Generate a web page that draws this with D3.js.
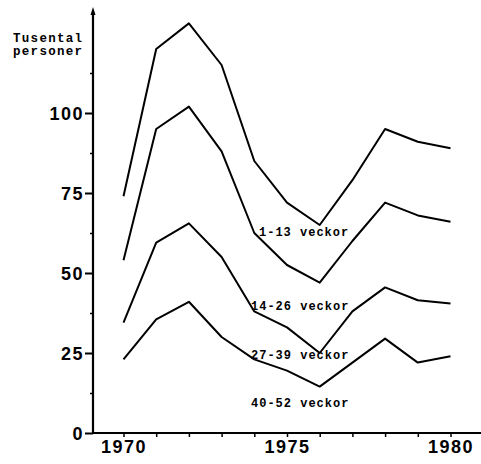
<!DOCTYPE html>
<html>
<head>
<meta charset="utf-8">
<script src="https://cdn.jsdelivr.net/npm/d3@7"></script>
<style>
body { margin: 0; background: #fff; }
svg { display: block; }
.tick text { font-family: "Liberation Sans", Arial, sans-serif; font-weight: bold; font-size: 18px; letter-spacing: 1.5px; fill: #000; }
.lbl { font-family: "Liberation Mono", "DejaVu Sans Mono", monospace; font-weight: bold; font-size: 12px; letter-spacing: 1px; fill: #000; }
</style>
</head>
<body>
<script>
var years = [1970, 1971, 1972, 1973, 1974, 1975, 1976, 1977, 1978, 1979, 1980];
var total = [74, 120, 128, 115, 85, 72, 65, 79, 95, 91, 89];
var upTo26 = [54, 95, 102, 88, 62.5, 52.5, 47, 60, 72, 68, 66];
var upTo39 = [34.5, 59.5, 65.5, 55, 38, 33, 25, 38, 45.5, 41.5, 40.5];
var upTo52 = [23, 35.5, 41, 30, 23, 19.5, 14.5, 22, 29.5, 22, 24];
var yTicks = [0, 25, 50, 75, 100];
var yMinor = [12.5, 37.5, 62.5, 87.5, 112.5];
var bandLabels = ["1-13 veckor", "14-26 veckor", "27-39 veckor", "40-52 veckor"];
var yTitle = ["Tusental", "personer"];

var width = 481, height = 464;

var svg = d3.select("body").append("svg")
	.attr("width", width).attr("height", height);

var x = d3.scaleLinear().domain([1970, 1980]).range([123.5, 450.5]);
var y = d3.scaleLinear().domain([0, 100]).range([433, 113]);

// y axis
var yAxis = svg.append("g").attr("transform", "translate(93,0)")
	.call(d3.axisLeft(y).tickValues(yTicks).tickSize(8).tickPadding(1).tickFormat(d3.format("d")));
yAxis.select(".domain").remove();
yAxis.selectAll(".tick line").attr("stroke-width", 2);
yAxis.selectAll(".tick text").attr("dy", "0.36em");

var yMin = svg.append("g").attr("transform", "translate(93,0)")
	.call(d3.axisLeft(y).tickValues(yMinor).tickSize(3).tickFormat(""));
yMin.select(".domain").remove();
yMin.selectAll(".tick line").attr("stroke-width", 1.5);

svg.append("line").attr("x1", 93).attr("x2", 93).attr("y1", y(0) + 1).attr("y2", 12)
	.attr("stroke", "#000").attr("stroke-width", 2.2);
svg.append("path").attr("d", "M93,7 L90.5,15 L95.5,15 Z").attr("fill", "#000");

// x axis
var xAxis = svg.append("g").attr("transform", "translate(0," + y(0) + ")")
	.call(d3.axisBottom(x).tickValues(years).tickSize(4).tickPadding(3)
		.tickFormat(function (d) { return d % 5 === 0 ? d : ""; }));
xAxis.select(".domain").remove();
xAxis.selectAll(".tick line").attr("stroke-width", 1.5);
svg.append("line").attr("x1", 92).attr("x2", 481).attr("y1", y(0)).attr("y2", y(0))
	.attr("stroke", "#000").attr("stroke-width", 2.2);

// lines
var line = d3.line()
	.x(function (d, i) { return x(years[i]); })
	.y(function (d) { return y(d); });

[total, upTo26, upTo39, upTo52].forEach(function (s) {
	svg.append("path").datum(s).attr("d", line)
		.attr("fill", "none").attr("stroke", "#000").attr("stroke-width", 2)
		.attr("stroke-linejoin", "round");
});

// band labels
var labelVals = [61.5, 38.5, 23, 8];
svg.selectAll(".lbl").data(bandLabels).enter().append("text")
	.attr("class", "lbl")
	.attr("x", function (d, i) { return i === 0 ? 259 : 251; })
	.attr("y", function (d, i) { return y(labelVals[i]); })
	.text(function (d) { return d; });

// y title
svg.selectAll(".ttl").data(yTitle).enter().append("text")
	.attr("class", "lbl").attr("x", 13)
	.attr("y", function (d, i) { return 42 + i * 13; })
	.style("font-size", "12.5px").style("letter-spacing", "1.3px")
	.text(function (d) { return d; });
</script>
</body>
</html>
